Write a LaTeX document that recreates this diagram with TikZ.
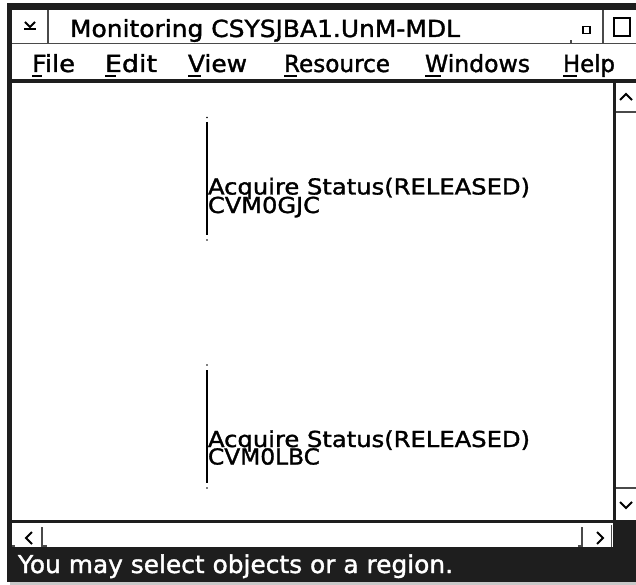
\documentclass[tikz,border=0pt]{standalone}
\usepackage{fontspec}
\setmainfont{DejaVu Sans}
\newfontfamily\uifont[UprightFeatures={FakeBold=1.4}]{DejaVu Sans}
\usepackage{graphicx}
\definecolor{win}{HTML}{1E1E1E}
\definecolor{edge}{HTML}{4A4A4A}
\definecolor{lite}{HTML}{C8C8C8}
\newcommand\fitw[2]{\resizebox{#1}{\height}{#2}}
\begin{document}
\begin{tikzpicture}[x=1pt,y=-1pt,
  lbl/.style={inner sep=0pt, outer sep=0pt, anchor=base west},
  cvtxt/.style={lbl, font=\uifont\fontsize{22}{26}\selectfont, text=black},
  bartxt/.style={lbl, font=\uifont\fontsize{23.5}{27}\selectfont, text=black},
  sttxt/.style={lbl, font=\uifont\fontsize{24.5}{28}\selectfont, text=white},
  thin/.style={draw=edge, line width=1.5pt},
  glyph/.style={draw=black, line width=2pt},
  uline/.style={draw=black, line width=2pt},
  bracket/.style={draw=black, line width=1.3pt},
]
\useasboundingbox (0,0) rectangle (636,585);
\fill[white] (0,0) rectangle (636,585);
% window frame
\fill[win] (7,3) rectangle (636,582);
\fill[lite] (10,582) rectangle (636,585);
% title and menu bar
\fill[white] (12,10) rectangle (636,79);
\draw[thin] (12,43.5) -- (636,43.5);
\draw[thin] (48,10) -- (48,43.5);
\draw[thin] (603,10) -- (603,43.5);
\draw[thin] (571,40.5) -- (571,43.5);
% system menu glyph
\draw[glyph] (25,22) -- (30,27) -- (35,22);
\draw[glyph] (24,29.5) -- (36,29.5);
% minimize / maximize
\draw[draw=black, line width=1.6pt] (583,26.5) rectangle (590,33.5);
\draw[draw=black, line width=1.6pt] (614,18) rectangle (630,36);
% title text
\node[bartxt] (title) at (70,37) {\fitw{390pt}{Monitoring CSYSJBA1.UnM-MDL}};
% menu items
\node[bartxt] (mfile) at (32,72) {\fitw{43pt}{File}};
\node[bartxt] (medit) at (105,72) {\fitw{52pt}{Edit}};
\node[bartxt] (mview) at (188,72) {\fitw{59pt}{View}};
\node[bartxt] (mres) at (284,72) {\fitw{106pt}{Resource}};
\node[bartxt] (mwin) at (425,72) {\fitw{105pt}{Windows}};
\node[bartxt] (mhelp) at (563,72) {\fitw{52pt}{Help}};
\draw[uline] (32,76.5) -- (42,76.5);
\draw[uline] (105,76.5) -- (116,76.5);
\draw[uline] (188,76.5) -- (201,76.5);
\draw[uline] (284,76.5) -- (297,76.5);
\draw[uline] (425,76.5) -- (441,76.5);
\draw[uline] (563,76.5) -- (577,76.5);
% canvas
\fill[white] (12,83.5) rectangle (613,520);
\fill[white] (615.5,83.5) rectangle (636,520);
% vertical scrollbar
\draw[glyph] (620,100) -- (626,94) -- (632,100);
\draw[thin] (615.5,112) -- (636,112);
\draw[thin] (615.5,488) -- (636,488);
\draw[glyph] (620,502) -- (626,508) -- (632,502);
% horizontal scrollbar
\fill[white] (12,523) rectangle (613,547);
\draw[thin] (42,527) -- (42,546) -- (47,546);
\draw[thin] (12,546) -- (15,546);
\draw[glyph] (32,532) -- (26,538) -- (32,544);
\draw[thin] (582,527) -- (582,546) -- (578,546);
\draw[thin] (611.5,525) -- (611.5,547);
\draw[glyph] (597,532) -- (603,538) -- (597,544);
% objects on the canvas
\coordinate (t1) at (207,122);
\coordinate (u1) at (207,235);
\coordinate (t2) at (207,370);
\coordinate (u2) at (207,483);
\draw[bracket] (t1) -- (u1);
\draw[bracket] (t2) -- (u2);
\fill (207,117.5) circle (0.9);
\fill (207,240) circle (0.9);
\fill (207,365) circle (0.9);
\fill (207,488) circle (0.9);
\node[cvtxt] (a1) at (208,194.5) {\fitw{322pt}{Acquire Status(RELEASED)}};
\node[cvtxt] (a2) at (208,213) {\fitw{112pt}{CVM0GJC}};
\node[cvtxt] (b1) at (208,447) {\fitw{322pt}{Acquire Status(RELEASED)}};
\node[cvtxt] (b2) at (208,464.5) {\fitw{112pt}{CVM0LBC}};
% status line
\node[sttxt] (status) at (18,573) {\fitw{435pt}{You may select objects or a region.}};
\end{tikzpicture}
\end{document}
